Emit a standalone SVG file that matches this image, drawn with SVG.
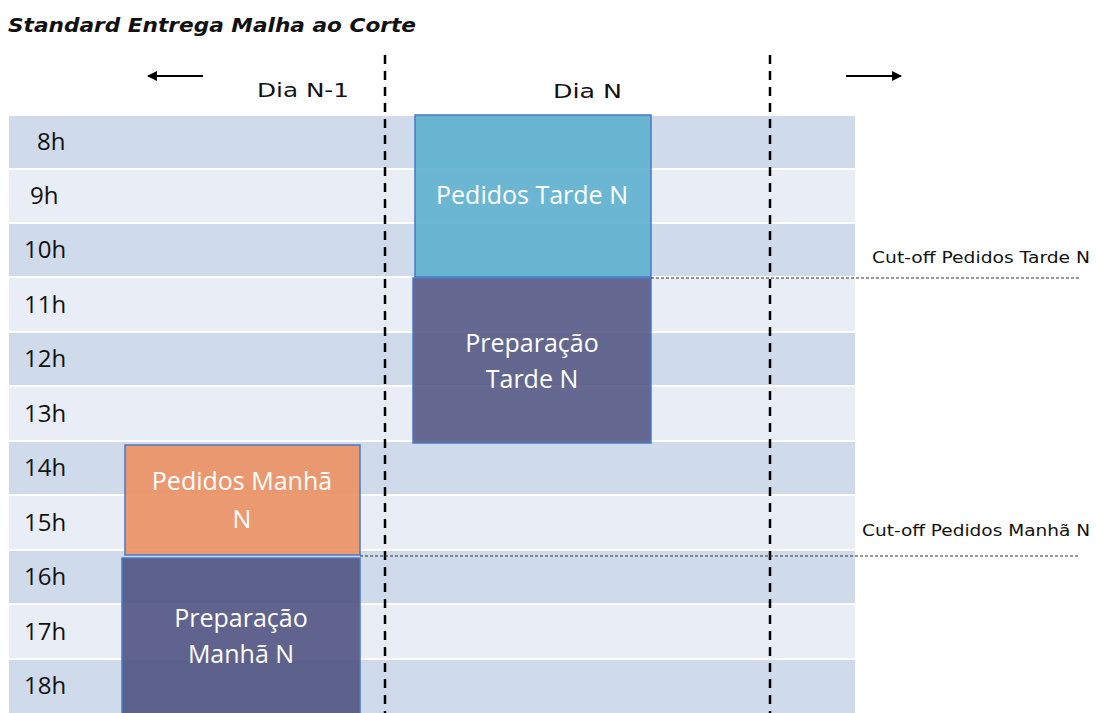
<svg xmlns="http://www.w3.org/2000/svg" width="1096" height="713" viewBox="0 0 1096 713">
<defs>
<marker id="ah" viewBox="0 0 10 10" refX="9" refY="5" markerWidth="6.5" markerHeight="5.5" orient="auto-start-reverse"><path d="M0,0 L10,5 L0,10 z" fill="#000"/></marker>
<style>
.rA{fill:#cfdaeb}.rB{fill:#e9edf5}
.hr{font-family:"Open Sans","Liberation Sans",sans-serif;font-size:24px;fill:#111}
.bt{font-family:"Open Sans","Liberation Sans",sans-serif;font-size:25px;fill:#fff;text-anchor:middle}
.dia{font-family:"DejaVu Sans","Liberation Sans",sans-serif;font-size:20px;fill:#111}
.co{font-family:"DejaVu Sans","Liberation Sans",sans-serif;font-size:16px;fill:#111}
.vd{stroke:#000;stroke-width:2.5;stroke-dasharray:9,7;fill:none}
.cd{stroke:#333;stroke-width:1;stroke-dasharray:3,2;fill:none}
.box{stroke:#4a78c8;stroke-width:1.5}
</style>
</defs>
<rect width="1096" height="713" fill="#fff"/>
<text x="8" y="32" font-family="DejaVu Sans,Liberation Sans,sans-serif" font-size="19.5" font-weight="bold" font-style="italic" fill="#111" textLength="408" lengthAdjust="spacingAndGlyphs">Standard Entrega Malha ao Corte</text>
<g id="rows">
<rect class="rA" x="9" y="116" width="846" height="52"/>
<rect class="rB" x="9" y="170" width="846" height="52"/>
<rect class="rA" x="9" y="224" width="846" height="52"/>
<rect class="rB" x="9" y="278" width="846" height="53"/>
<rect class="rA" x="9" y="333" width="846" height="52"/>
<rect class="rB" x="9" y="387" width="846" height="53"/>
<rect class="rA" x="9" y="442" width="846" height="52"/>
<rect class="rB" x="9" y="496" width="846" height="53"/>
<rect class="rA" x="9" y="551" width="846" height="52"/>
<rect class="rB" x="9" y="605" width="846" height="53"/>
<rect class="rA" x="9" y="660" width="846" height="53"/>
</g>
<g id="hours">
<text class="hr" x="37" y="150">8h</text>
<text class="hr" x="30" y="204">9h</text>
<text class="hr" x="24" y="258">10h</text>
<text class="hr" x="24" y="313">11h</text>
<text class="hr" x="24" y="367">12h</text>
<text class="hr" x="24" y="422">13h</text>
<text class="hr" x="24" y="476">14h</text>
<text class="hr" x="24" y="531">15h</text>
<text class="hr" x="24" y="585">16h</text>
<text class="hr" x="24" y="640">17h</text>
<text class="hr" x="24" y="694">18h</text>
</g>
<g id="pedidos-tarde">
<rect class="box" x="415" y="115" width="236" height="162" fill="#5fb2cf" fill-opacity="0.92"/>
<text class="bt" x="532" y="204">Pedidos Tarde N</text>
</g>
<g id="preparacao-tarde">
<rect class="box" x="413" y="278" width="238" height="165" fill="#565a86" fill-opacity="0.9"/>
<text class="bt" x="532" y="352">Preparação</text>
<text class="bt" x="532" y="388">Tarde N</text>
</g>
<g id="pedidos-manha">
<rect class="box" x="125" y="445" width="235" height="110" fill="#eb9568" fill-opacity="0.95"/>
<text class="bt" x="242" y="490">Pedidos Manhã</text>
<text class="bt" x="242" y="528">N</text>
</g>
<g id="preparacao-manha">
<rect class="box" x="122" y="558" width="238" height="160" fill="#535783" fill-opacity="0.92"/>
<text class="bt" x="241" y="627">Preparação</text>
<text class="bt" x="241" y="663">Manhã N</text>
</g>
<g id="connectors">
<line class="vd" x1="385" y1="55" x2="385" y2="713"/>
<line class="vd" x1="770" y1="55" x2="770" y2="713"/>
<line x1="203" y1="76" x2="148" y2="76" stroke="#000" stroke-width="1.8" marker-end="url(#ah)"/>
<line x1="846" y1="76" x2="901" y2="76" stroke="#000" stroke-width="1.8" marker-end="url(#ah)"/>
<line class="cd" x1="651" y1="278" x2="1080" y2="278"/>
<line class="cd" x1="360" y1="556" x2="1080" y2="556"/>
</g>
<g id="labels">
<text class="dia" x="257" y="97" textLength="92" lengthAdjust="spacingAndGlyphs">Dia N-1</text>
<text class="dia" x="553" y="98" textLength="69" lengthAdjust="spacingAndGlyphs">Dia N</text>
<text class="co" x="872" y="263" textLength="218" lengthAdjust="spacingAndGlyphs">Cut-off Pedidos Tarde N</text>
<text class="co" x="862" y="536" textLength="228" lengthAdjust="spacingAndGlyphs">Cut-off Pedidos Manhã N</text>
</g>
</svg>
